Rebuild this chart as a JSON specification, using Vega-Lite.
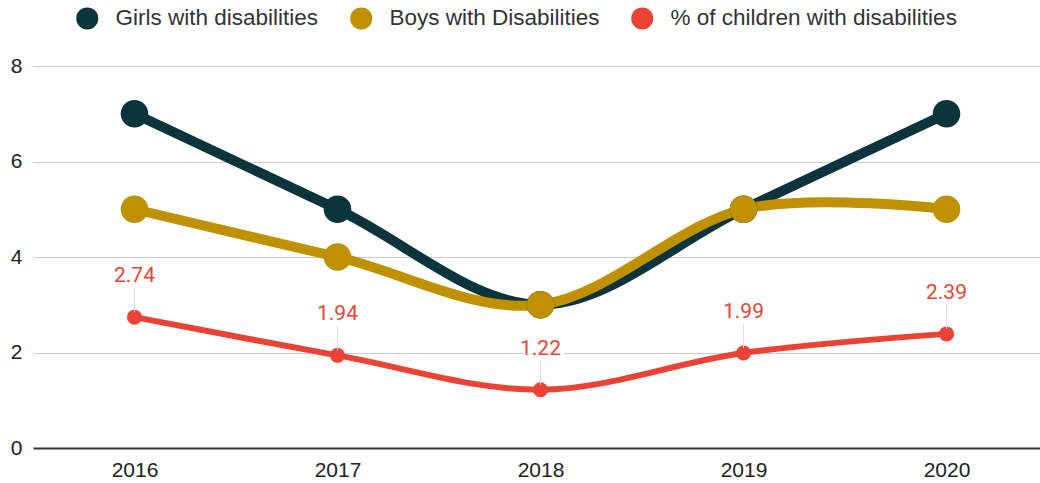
{
  "$schema": "https://vega.github.io/schema/vega-lite/v6.json",
  "width": 1015,
  "height": 382,
  "autosize": {"type": "none"},
  "padding": {"left": 33, "top": 66, "right": 0, "bottom": 35},
  "background": "white",
  "config": {"view": {"stroke": null}},
  "data": {
    "values": [
      {"year": "2016", "series": "Girls with disabilities", "value": 7},
      {"year": "2017", "series": "Girls with disabilities", "value": 5},
      {"year": "2018", "series": "Girls with disabilities", "value": 3},
      {"year": "2019", "series": "Girls with disabilities", "value": 5},
      {"year": "2020", "series": "Girls with disabilities", "value": 7},
      {"year": "2016", "series": "Boys with Disabilities", "value": 5},
      {"year": "2017", "series": "Boys with Disabilities", "value": 4},
      {"year": "2018", "series": "Boys with Disabilities", "value": 3},
      {"year": "2019", "series": "Boys with Disabilities", "value": 5},
      {"year": "2020", "series": "Boys with Disabilities", "value": 5},
      {"year": "2016", "series": "% of children with disabilities", "value": 2.74},
      {"year": "2017", "series": "% of children with disabilities", "value": 1.94},
      {"year": "2018", "series": "% of children with disabilities", "value": 1.22},
      {"year": "2019", "series": "% of children with disabilities", "value": 1.99},
      {"year": "2020", "series": "% of children with disabilities", "value": 2.39}
    ]
  },
  "encoding": {
    "x": {
      "field": "year",
      "type": "ordinal",
      "scale": {"type": "point", "padding": 0.5},
      "axis": {
        "title": null,
        "labelAngle": 0,
        "labelFont": "Liberation Sans",
        "labelFontSize": 21,
        "labelColor": "#222222",
        "labelPadding": 11,
        "ticks": false,
        "domainColor": "#333333",
        "domainWidth": 2,
        "grid": false
      }
    },
    "y": {
      "field": "value",
      "type": "quantitative",
      "scale": {"domain": [0, 8], "nice": false},
      "axis": {
        "title": null,
        "values": [0, 2, 4, 6, 8],
        "labelFont": "Liberation Sans",
        "labelFontSize": 21,
        "labelColor": "#222222",
        "labelPadding": 11,
        "ticks": false,
        "domain": false,
        "gridColor": "#cccccc",
        "gridWidth": 1
      }
    }
  },
  "layer": [
    {
      "transform": [{"filter": "datum.series === 'Girls with disabilities'"}],
      "mark": {"type": "line", "color": "#0c343d", "strokeWidth": 10, "interpolate": "cardinal"}
    },
    {
      "transform": [{"filter": "datum.series === 'Boys with Disabilities'"}],
      "mark": {"type": "line", "color": "#bf9000", "strokeWidth": 10, "interpolate": "cardinal"}
    },
    {
      "transform": [{"filter": "datum.series === '% of children with disabilities'"}],
      "mark": {"type": "line", "color": "#ea4335", "strokeWidth": 6, "interpolate": "cardinal"}
    },
    {
      "transform": [{"filter": "datum.series !== '% of children with disabilities'"}],
      "mark": {"type": "point", "filled": true, "opacity": 1, "size": 760, "shape": "circle"},
      "encoding": {
        "color": {
          "field": "series",
          "type": "nominal",
          "scale": {
            "domain": ["Girls with disabilities", "Boys with Disabilities", "% of children with disabilities"],
            "range": ["#0c343d", "#bf9000", "#ea4335"]
          },
          "legend": {
            "title": null,
            "orient": "none",
            "direction": "horizontal",
            "legendX": 43,
            "legendY": -59,
            "padding": 0,
            "symbolType": "circle",
            "symbolSize": 484,
            "symbolStrokeWidth": 0,
            "symbolOpacity": 1,
            "labelFont": "Liberation Sans",
            "labelFontSize": 22.5,
            "labelColor": "#333333",
            "labelOffset": 17,
            "columnPadding": 31,
            "labelLimit": 400
          }
        }
      }
    },
    {
      "transform": [{"filter": "datum.series === '% of children with disabilities'"}],
      "mark": {"type": "point", "filled": true, "opacity": 1, "size": 225, "shape": "circle", "color": "#ea4335"}
    },
    {
      "transform": [{"filter": "datum.series === '% of children with disabilities'"}],
      "mark": {"type": "rule", "color": "#dddddd", "strokeWidth": 1, "yOffset": -29, "y2Offset": -5},
      "encoding": {"y2": {"field": "value"}}
    },
    {
      "transform": [{"filter": "datum.series === '% of children with disabilities'"}],
      "mark": {"type": "text", "font": "Roboto", "fontSize": 21, "dy": -41, "baseline": "middle", "align": "center", "stroke": "white", "strokeWidth": 6, "fill": "white"},
      "encoding": {"text": {"field": "value", "type": "quantitative", "format": ".2f"}}
    },
    {
      "transform": [{"filter": "datum.series === '% of children with disabilities'"}],
      "mark": {"type": "text", "font": "Roboto", "fontSize": 21, "dy": -41, "baseline": "middle", "align": "center", "color": "#ea4335"},
      "encoding": {"text": {"field": "value", "type": "quantitative", "format": ".2f"}}
    }
  ]
}
